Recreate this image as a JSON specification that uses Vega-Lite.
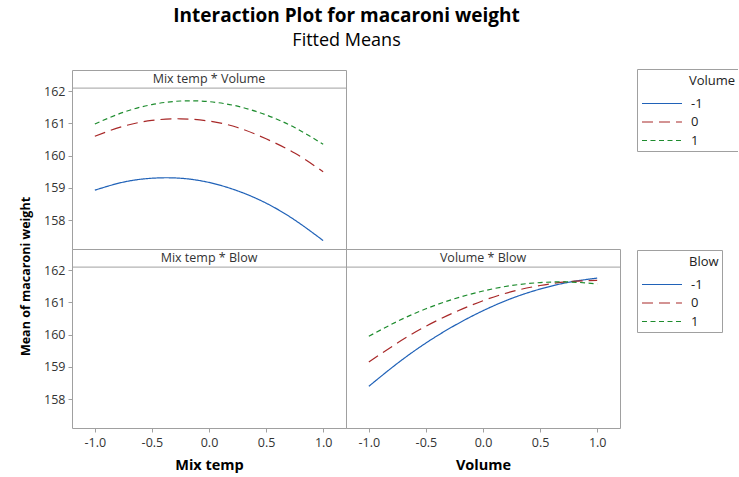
{
  "$schema": "https://vega.github.io/schema/vega-lite/v6.json",
  "background": "white",
  "padding": {"left": 19, "top": 7, "right": -2, "bottom": 4},
  "title": {
    "text": "Interaction Plot for macaroni weight",
    "subtitle": "Fitted Means",
    "font": "Open Sans",
    "fontSize": 19,
    "fontWeight": "bold",
    "color": "black",
    "subtitleFont": "Open Sans",
    "subtitleFontSize": 18,
    "subtitleColor": "black",
    "subtitlePadding": 6,
    "anchor": "middle",
    "dx": -33,
    "offset": 18
  },
  "config": {
    "font": "Open Sans",
    "view": {"stroke": "#a0a0a0", "strokeWidth": 1},
    "axis": {
      "labelFont": "Open Sans",
      "labelFontSize": 12.5,
      "labelColor": "#333333",
      "tickColor": "#a0a0a0",
      "tickSize": 4,
      "domain": false,
      "grid": false,
      "titleFont": "Open Sans",
      "titleFontSize": 14.5,
      "titleFontWeight": "bold",
      "titleColor": "black"
    },
    "legend": {
      "orient": "none",
      "strokeColor": "#a0a0a0",
      "fillColor": "white",
      "padding": 3,
      "symbolType": "M-0.82,0H6.45",
      "symbolSize": 121,
      "symbolStrokeWidth": 1.2,
      "labelFont": "Open Sans",
      "labelFontSize": 13,
      "labelColor": "#222222",
      "labelOffset": 38,
      "titleFont": "Open Sans",
      "titleFontSize": 13,
      "titleFontWeight": "normal",
      "titleColor": "#222222",
      "titlePadding": 12,
      "rowPadding": 4.5
    }
  },
  "datasets": {
    "panels": [
      {"panel": "Mix temp * Volume"},
      {"panel": "Mix temp * Blow"},
      {"panel": "Volume * Blow"}
    ],
    "mv": [
      {"mixtemp": -1, "volume": "-1", "mean": 158.93},
      {"mixtemp": -0.75, "volume": "-1", "mean": 159.18},
      {"mixtemp": -0.5, "volume": "-1", "mean": 159.3},
      {"mixtemp": -0.25, "volume": "-1", "mean": 159.3},
      {"mixtemp": 0, "volume": "-1", "mean": 159.17},
      {"mixtemp": 0.25, "volume": "-1", "mean": 158.91},
      {"mixtemp": 0.5, "volume": "-1", "mean": 158.53},
      {"mixtemp": 0.75, "volume": "-1", "mean": 158.01},
      {"mixtemp": 1, "volume": "-1", "mean": 157.37},
      {"mixtemp": -1, "volume": "0", "mean": 160.6},
      {"mixtemp": -0.75, "volume": "0", "mean": 160.91},
      {"mixtemp": -0.5, "volume": "0", "mean": 161.09},
      {"mixtemp": -0.25, "volume": "0", "mean": 161.14},
      {"mixtemp": 0, "volume": "0", "mean": 161.07},
      {"mixtemp": 0.25, "volume": "0", "mean": 160.87},
      {"mixtemp": 0.5, "volume": "0", "mean": 160.52},
      {"mixtemp": 0.75, "volume": "0", "mean": 160.08},
      {"mixtemp": 1, "volume": "0", "mean": 159.5},
      {"mixtemp": -1, "volume": "1", "mean": 160.98},
      {"mixtemp": -0.75, "volume": "1", "mean": 161.34},
      {"mixtemp": -0.5, "volume": "1", "mean": 161.58},
      {"mixtemp": -0.25, "volume": "1", "mean": 161.69},
      {"mixtemp": 0, "volume": "1", "mean": 161.67},
      {"mixtemp": 0.25, "volume": "1", "mean": 161.53},
      {"mixtemp": 0.5, "volume": "1", "mean": 161.26},
      {"mixtemp": 0.75, "volume": "1", "mean": 160.87},
      {"mixtemp": 1, "volume": "1", "mean": 160.35}
    ],
    "vb": [
      {"volume": -1, "blow": "-1", "mean": 158.4},
      {"volume": -0.75, "blow": "-1", "mean": 159.11},
      {"volume": -0.5, "blow": "-1", "mean": 159.74},
      {"volume": -0.25, "blow": "-1", "mean": 160.28},
      {"volume": 0, "blow": "-1", "mean": 160.74},
      {"volume": 0.25, "blow": "-1", "mean": 161.12},
      {"volume": 0.5, "blow": "-1", "mean": 161.41},
      {"volume": 0.75, "blow": "-1", "mean": 161.62},
      {"volume": 1, "blow": "-1", "mean": 161.75},
      {"volume": -1, "blow": "0", "mean": 159.15},
      {"volume": -0.75, "blow": "0", "mean": 159.74},
      {"volume": -0.5, "blow": "0", "mean": 160.26},
      {"volume": -0.25, "blow": "0", "mean": 160.69},
      {"volume": 0, "blow": "0", "mean": 161.05},
      {"volume": 0.25, "blow": "0", "mean": 161.33},
      {"volume": 0.5, "blow": "0", "mean": 161.52},
      {"volume": 0.75, "blow": "0", "mean": 161.64},
      {"volume": 1, "blow": "0", "mean": 161.68},
      {"volume": -1, "blow": "1", "mean": 159.95},
      {"volume": -0.75, "blow": "1", "mean": 160.41},
      {"volume": -0.5, "blow": "1", "mean": 160.8},
      {"volume": -0.25, "blow": "1", "mean": 161.11},
      {"volume": 0, "blow": "1", "mean": 161.35},
      {"volume": 0.25, "blow": "1", "mean": 161.52},
      {"volume": 0.5, "blow": "1", "mean": 161.61},
      {"volume": 0.75, "blow": "1", "mean": 161.63},
      {"volume": 1, "blow": "1", "mean": 161.57}
    ]
  },
  "spacing": 0,
  "bounds": "flush",
  "resolve": {
    "scale": {"color": "independent", "strokeDash": "independent"},
    "legend": {"color": "independent", "strokeDash": "independent"}
  },
  "vconcat": [
    {
      "width": 274,
      "height": 179,
      "layer": [
        {
          "data": {"name": "mv"},
          "mark": {"type": "line", "interpolate": "natural", "strokeWidth": 1.2},
          "encoding": {
            "x": {"field": "mixtemp", "type": "quantitative", "scale": {"domain": [-1.2, 1.2], "nice": false, "zero": false}, "axis": null},
            "y": {"field": "mean", "type": "quantitative", "scale": {"domain": [157.11, 162.65], "nice": false, "zero": false},
                  "axis": {"values": [158, 159, 160, 161, 162], "title": "Mean of macaroni weight", "titleFontSize": 12.5, "titleY": 206, "titlePadding": 11, "labelPadding": 3}},
            "color": {"field": "volume", "type": "nominal",
                      "scale": {"domain": ["-1", "0", "1"], "range": ["#2062b8", "#a82828", "#1e8c2e"]},
                      "legend": {"title": "Volume", "legendX": 565, "legendY": -1, "encode": {"title": {"update": {"dx": {"value": 49}, "dy": {"value": 3}}}}}},
            "strokeDash": {"field": "volume", "type": "nominal",
                      "scale": {"domain": ["-1", "0", "1"], "range": [[1, 0], [11, 6], [5, 3.5]]},
                      "legend": {"title": "Volume", "legendX": 565, "legendY": -1, "encode": {"title": {"update": {"dx": {"value": 49}, "dy": {"value": 3}}}}}}
          }
        },
        {
          "data": {"name": "panels"},
          "transform": [{"filter": "datum.panel === 'Mix temp * Volume'"}],
          "mark": {"type": "rule", "color": "#a0a0a0", "strokeWidth": 1},
          "encoding": {"y": {"datum": 162.09}}
        },
        {
          "data": {"name": "panels"},
          "transform": [{"filter": "datum.panel === 'Mix temp * Volume'"}],
          "mark": {"type": "text", "fontSize": 12.5, "color": "#333333", "baseline": "middle"},
          "encoding": {"x": {"datum": 0}, "y": {"datum": 162.37}, "text": {"field": "panel"}}
        }
      ]
    },
    {
      "spacing": 0,
      "bounds": "flush",
      "resolve": {
        "scale": {"color": "independent", "strokeDash": "independent"},
        "legend": {"color": "independent", "strokeDash": "independent"}
      },
      "hconcat": [
        {
          "width": 274,
          "height": 179,
          "data": {"name": "panels"},
          "transform": [{"filter": "datum.panel === 'Mix temp * Blow'"}],
          "layer": [
            {
              "mark": {"type": "text", "fontSize": 12.5, "color": "#333333", "baseline": "middle"},
              "encoding": {
                "x": {"datum": 0, "type": "quantitative", "scale": {"domain": [-1.2, 1.2], "nice": false, "zero": false},
                      "axis": {"values": [-1, -0.5, 0, 0.5, 1], "labelExpr": "replace(format(datum.value, '.1f'), '\u2212', '-')", "title": "Mix temp", "labelPadding": 4, "titlePadding": 10}},
                "y": {"datum": 162.37, "type": "quantitative", "scale": {"domain": [157.11, 162.65], "nice": false, "zero": false},
                      "axis": {"values": [158, 159, 160, 161, 162], "title": null, "labelPadding": 3}},
                "text": {"field": "panel"}
              }
            },
            {
              "mark": {"type": "rule", "color": "#a0a0a0", "strokeWidth": 1},
              "encoding": {"y": {"datum": 162.09}}
            }
          ]
        },
        {
          "width": 274,
          "height": 179,
          "layer": [
            {
              "data": {"name": "vb"},
              "mark": {"type": "line", "interpolate": "natural", "strokeWidth": 1.2},
              "encoding": {
                "x": {"field": "volume", "type": "quantitative", "scale": {"domain": [-1.2, 1.2], "nice": false, "zero": false},
                      "axis": {"values": [-1, -0.5, 0, 0.5, 1], "labelExpr": "replace(format(datum.value, '.1f'), '\u2212', '-')", "title": "Volume", "labelPadding": 4, "titlePadding": 10}},
                "y": {"field": "mean", "type": "quantitative", "scale": {"domain": [157.11, 162.65], "nice": false, "zero": false}, "axis": null},
                "color": {"field": "blow", "type": "nominal",
                          "scale": {"domain": ["-1", "0", "1"], "range": ["#2062b8", "#a82828", "#1e8c2e"]},
                          "legend": {"title": "Blow", "legendX": 291, "legendY": 1, "encode": {"title": {"update": {"dx": {"value": 49}, "dy": {"value": 3}}}}}},
                "strokeDash": {"field": "blow", "type": "nominal",
                          "scale": {"domain": ["-1", "0", "1"], "range": [[1, 0], [11, 6], [5, 3.5]]},
                          "legend": {"title": "Blow", "legendX": 291, "legendY": 1, "encode": {"title": {"update": {"dx": {"value": 49}, "dy": {"value": 3}}}}}}
              }
            },
            {
              "data": {"name": "panels"},
              "transform": [{"filter": "datum.panel === 'Volume * Blow'"}],
              "mark": {"type": "rule", "color": "#a0a0a0", "strokeWidth": 1},
              "encoding": {"y": {"datum": 162.09}}
            },
            {
              "data": {"name": "panels"},
              "transform": [{"filter": "datum.panel === 'Volume * Blow'"}],
              "mark": {"type": "text", "fontSize": 12.5, "color": "#333333", "baseline": "middle"},
              "encoding": {"x": {"datum": 0}, "y": {"datum": 162.37}, "text": {"field": "panel"}}
            }
          ]
        }
      ]
    }
  ]
}
